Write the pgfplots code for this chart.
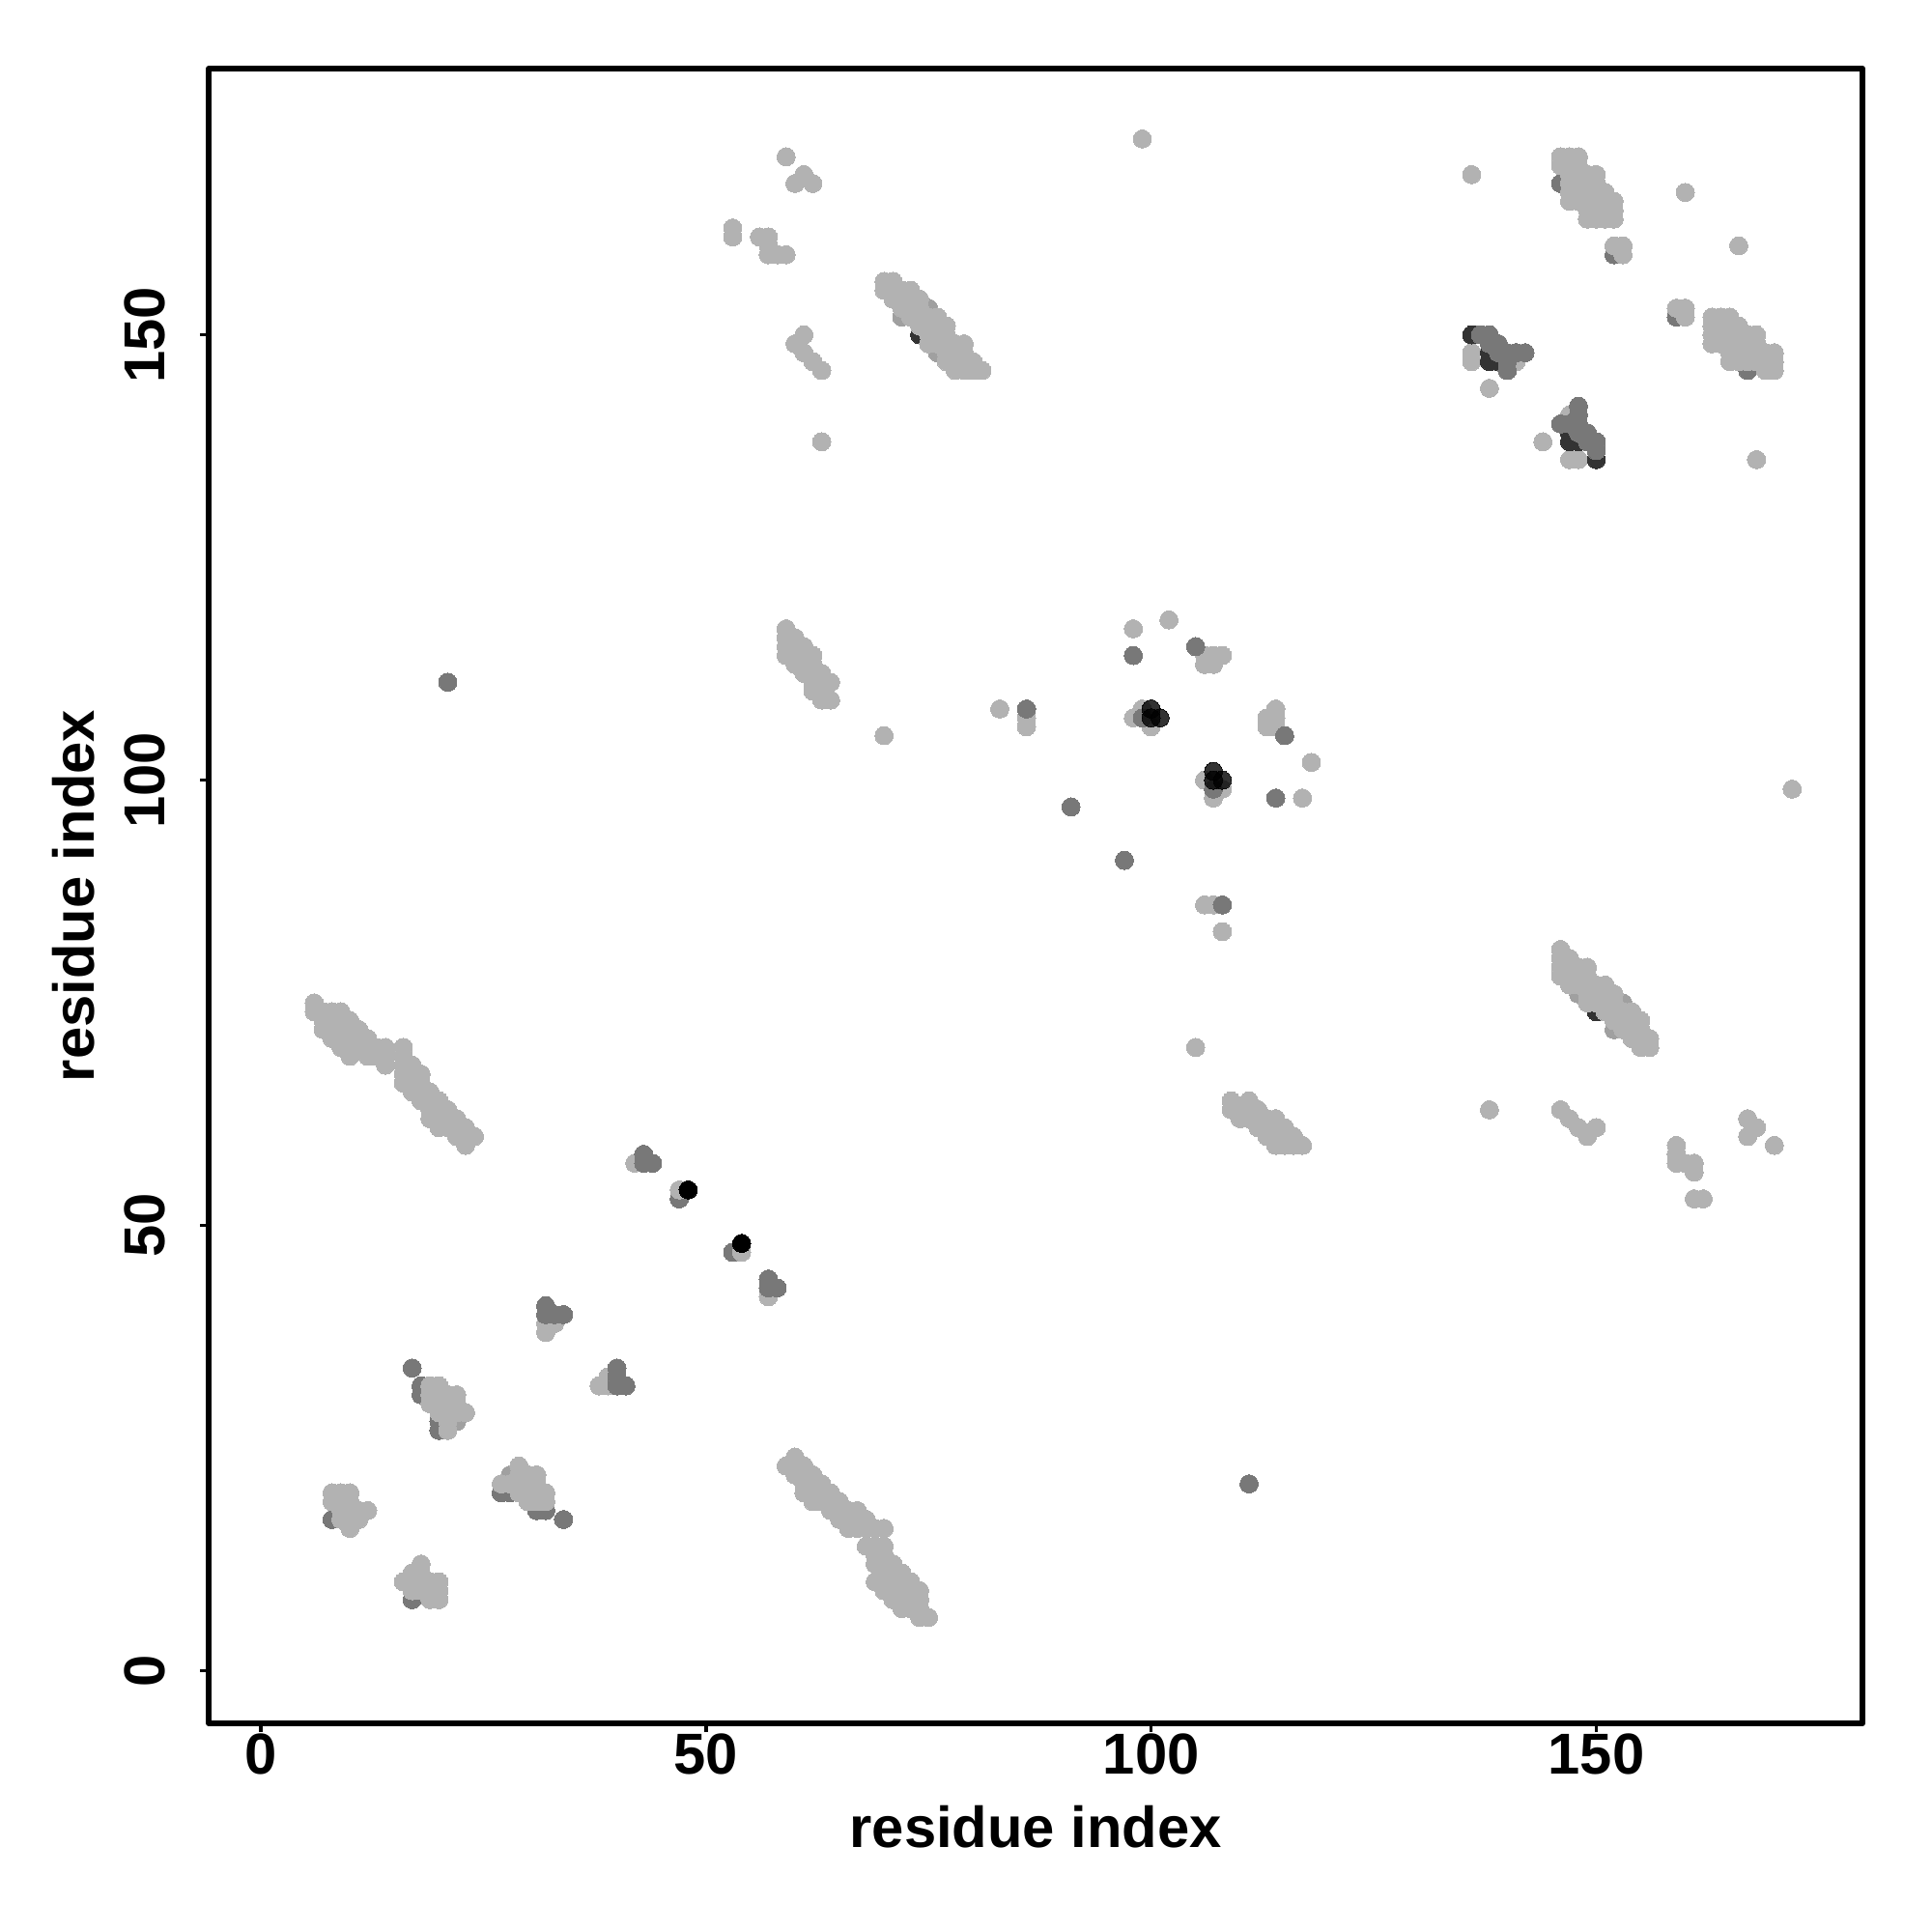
\documentclass[border=0pt]{standalone}
\usepackage{fontspec}
\setmainfont{Liberation Sans}
\usepackage{pgfplots}
\usepackage{pgfplotstable}
\pgfplotsset{compat=1.18}
\definecolor{cLight}{HTML}{B2B2B2}
\definecolor{cMid}{HTML}{A0A0A0}
\definecolor{cMed}{HTML}{787878}
\definecolor{cDark}{HTML}{333333}
\pgfplotstableread[row sep=\\]{
i j\\
74 150\\
}\darkbottom
\pgfplotstableread[row sep=\\]{
i j\\
8 17\\17 34\\18 32\\18 31\\20 28\\20 27\\47 53\\146 167\\152 159\\
}\medunder
\pgfplotstableread[row sep=\\]{
i j\\
22 28\\75 153\\72 152\\76 148\\
}\midgray
\pgfplotstableread[row sep=\\]{
i j\\
6 75\\6 74\\7 74\\8 74\\9 74\\7 73\\8 73\\9 73\\10 73\\7 72\\8 72\\9 72\\10 72\\11 72\\8 71\\9 71\\10 71\\11 71\\12 71\\9 70\\10 70\\11 70\\12 70\\13 70\\14 70\\16 70\\10 69\\12 69\\13 69\\14 69\\16 69\\14 68\\16 68\\17 68\\16 67\\17 67\\18 67\\16 66\\17 66\\18 66\\17 65\\18 65\\19 65\\18 64\\19 64\\20 64\\19 63\\20 63\\21 63\\19 62\\20 62\\21 62\\22 62\\20 61\\21 61\\22 61\\23 61\\22 60\\23 60\\24 60\\23 59\\
19 32\\20 32\\19 31\\20 31\\21 31\\22 31\\19 30\\20 30\\21 30\\22 30\\20 29\\21 29\\22 29\\23 29\\21 28\\21 27\\
8 20\\9 20\\10 20\\8 19\\9 19\\10 19\\9 18\\10 18\\11 18\\12 18\\9 17\\10 17\\11 17\\10 16\\
42 57\\47 54\\33 39\\32 39\\32 38\\38 32\\
59 170\\60 167\\61 168\\62 167\\53 162\\53 161\\56 161\\57 161\\57 160\\57 159\\58 159\\59 159\\
61 150\\60 149\\61 148\\62 147\\63 146\\63 138\\
70 156\\71 156\\70 155\\71 155\\72 155\\73 155\\71 154\\72 154\\73 154\\74 154\\72 153\\73 153\\74 153\\73 152\\74 152\\75 152\\76 152\\74 151\\75 151\\76 151\\77 151\\75 150\\76 150\\77 150\\75 149\\76 149\\77 149\\78 149\\79 149\\77 148\\78 148\\79 148\\77 147\\78 147\\79 147\\80 147\\78 146\\79 146\\80 146\\81 146\\
146 170\\147 170\\148 170\\146 169\\147 169\\148 169\\147 168\\148 168\\149 168\\150 168\\147 167\\148 167\\149 167\\150 167\\147 166\\148 166\\149 166\\150 166\\151 166\\147 165\\148 165\\149 165\\150 165\\151 165\\152 165\\149 164\\150 164\\151 164\\152 164\\149 163\\150 163\\151 163\\152 163\\152 160\\153 160\\153 159\\
160 166\\136 168\\99 172\\
59 117\\59 116\\60 116\\59 115\\60 115\\61 115\\59 114\\60 114\\61 114\\62 114\\60 113\\61 113\\62 113\\61 112\\62 112\\63 112\\62 111\\63 111\\64 111\\62 110\\63 110\\63 109\\64 109\\
70 105\\83 108\\86 106\\86 107\\98 117\\102 118\\98 107\\99 108\\100 106\\106 113\\106 114\\107 113\\107 114\\108 114\\
136 148\\136 147\\141 147\\138 144\\
}\lightgray
\pgfplotstableread[row sep=\\]{
i j\\
136 150\\138 147\\139 147\\138 148\\
}\darkunder
\pgfplotstableread[row sep=\\]{
i j\\
43 58\\43 57\\44 57\\32 41\\32 40\\33 40\\34 40\\86 108\\98 114\\105 115\\91 97\\21 111\\99 107\\
137 150\\138 150\\138 149\\139 149\\139 148\\140 148\\141 148\\142 148\\140 147\\140 146\\
}\medover
\pgfplotstableread[row sep=\\]{
i j\\
100 108\\100 107\\101 107\\
}\darkover
\pgfplotstableread[row sep=\\]{
i j\\
48 54\\
}\blackpts
\pgfplotsset{pt/.style={only marks,mark=*,mark size=2.68pt,mark options={draw=#1,fill=#1,line width=0pt}},
ptalpha/.style={only marks,mark=*,mark size=2.68pt,mark options={draw=black,fill=black,line width=0pt,opacity=0.8}}}
\begin{document}
\begin{tikzpicture}
\path[use as bounding box] (0,0) rectangle (20cm,20cm);
\begin{axis}[
  at={(2.163cm,2.16cm)},anchor=south west,
  scale only axis,width=17.117cm,height=17.13cm,
  xmin=-5.83,xmax=179.9,ymin=-5.89,ymax=179.9,
  xtick={0,50,100,150},ytick={0,50,100,150},
  tick pos=left,tick align=outside,
  major tick length=0.09cm,
  tick style={line width=1pt,black},
  axis line style={line width=1.7pt,line join=round},
  /pgf/number format/assume math mode=true,
  tick label style={font=\fontsize{17}{20}\selectfont\bfseries},
  xticklabel style={yshift=3pt},
  yticklabel style={rotate=90,anchor=south,yshift=6.7pt},
  label style={font=\fontsize{17}{20}\selectfont\bfseries},
  xlabel={residue index},ylabel={residue index},
  xlabel style={at={(axis description cs:0.5,-0.0)},anchor=base,yshift=-2.19cm+0.91cm},
  ylabel style={at={(axis description cs:0,0.5)},rotate=0,anchor=base,yshift=1.19cm},
]
\addplot[pt=cDark] table[x=i,y=j]{\darkbottom};
\addplot[pt=cDark] table[x=j,y=i]{\darkbottom};
\addplot[pt=cMed] table[x=i,y=j]{\medunder};
\addplot[pt=cMed] table[x=j,y=i]{\medunder};
\addplot[pt=cMid] table[x=i,y=j]{\midgray};
\addplot[pt=cMid] table[x=j,y=i]{\midgray};
\addplot[pt=cLight] table[x=i,y=j]{\lightgray};
\addplot[pt=cLight] table[x=j,y=i]{\lightgray};
\addplot[pt=cDark] table[x=i,y=j]{\darkunder};
\addplot[pt=cDark] table[x=j,y=i]{\darkunder};
\addplot[pt=cMed] table[x=i,y=j]{\medover};
\addplot[pt=cMed] table[x=j,y=i]{\medover};
\addplot[ptalpha] table[x=i,y=j]{\darkover};
\addplot[ptalpha] table[x=j,y=i]{\darkover};
\addplot[pt=black] table[x=i,y=j]{\blackpts};
\addplot[pt=black] table[x=j,y=i]{\blackpts};
\end{axis}
\end{tikzpicture}
\end{document}
